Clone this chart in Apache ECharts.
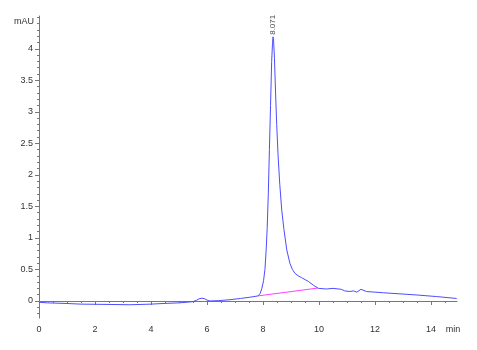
<!DOCTYPE html>
<html>
<head>
<meta charset="utf-8">
<script src="https://cdn.jsdelivr.net/npm/echarts@6/dist/echarts.min.js"></script>
<style>html,body{margin:0;padding:0;background:#fff}#c{width:477px;height:350px}</style>
</head>
<body>
<div id="c"></div>
<script>
// Chromatogram trace (time in min, signal in mAU)
const times = [0.0,0.3,1.0,1.5,2.5,3.25,4.0,4.43,5.0,5.29,5.5,5.62,5.72,5.82,5.92,6.0,6.1,6.4,6.82,7.2,7.54,7.82,7.9,7.96,8.02,8.07,8.11,8.15,8.19,8.23,8.27,8.31,8.34,8.36,8.38,8.41,8.45,8.49,8.54,8.6,8.67,8.75,8.85,8.96,9.05,9.14,9.25,9.38,9.5,9.62,9.8,9.98,10.27,10.5,10.8,10.92,10.99,11.1,11.23,11.35,11.5,11.7,12.3,13.5,14.2,14.92];
const signal = [-0.02,-0.03,-0.04,-0.05,-0.055,-0.06,-0.05,-0.04,-0.03,-0.02,-0.01,0.01,0.035,0.045,0.035,0.015,0.0,0.005,0.02,0.04,0.06,0.08,0.12,0.2,0.32,0.5,0.78,1.15,1.7,2.4,3.1,3.8,4.08,4.19,4.12,3.85,3.3,2.8,2.3,1.85,1.44,1.13,0.81,0.60,0.5,0.44,0.40,0.37,0.34,0.31,0.25,0.20,0.19,0.20,0.185,0.16,0.13,0.15,0.16,0.14,0.185,0.15,0.13,0.095,0.07,0.04];
// Integration baseline
const baseTimes = [7.82, 9.96];
const baseValues = [0.08, 0.205];
// Peak annotation
const peakTimes = [8.36];
const peakValues = [4.19];
const peakLabels = ['8.071'];
// Axis ticks
const xTickLabels = [0,2,4,6,8,10,12,14];
const yTickLabels = [0,0.5,1,1.5,2,2.5,3,3.5,4];
const xMinorTicks = [];
for (let i = 0; i <= 29; i++) xMinorTicks.push(i * 0.5);
const yMinorTicks = [];
for (let i = -2; i <= 45; i++) yMinorTicks.push(i / 10);

const XMIN = 0, XMAX = 14.93, YMIN = -0.27, YMAX = 4.52;
const axisColor = '#777';
const labelStyle = {color: '#333', fontSize: 9, fontFamily: 'Liberation Sans, Arial, sans-serif'};

const chart = echarts.init(document.getElementById('c'));
chart.setOption({
  animation: false,
  backgroundColor: '#fff',
  grid: {left: 39, right: 20, top: 16, bottom: 32, containLabel: false},
  xAxis: [
    {
      type: 'value', min: XMIN, max: XMAX,
      name: 'min', nameLocation: 'end', nameGap: -4,
      nameTextStyle: Object.assign({}, labelStyle, {align: 'center', verticalAlign: 'top', padding: [24, 0, 0, 0]}),
      axisLine: {show: true, lineStyle: {color: axisColor, width: 1}},
      axisTick: {show: true, customValues: xTickLabels, length: 4, lineStyle: {color: axisColor}},
      axisLabel: Object.assign({show: true, customValues: xTickLabels, margin: 7}, labelStyle),
      splitLine: {show: false}
    },
    {
      type: 'value', min: XMIN, max: XMAX, position: 'bottom',
      axisLine: {show: false},
      axisTick: {show: true, customValues: xMinorTicks, length: 2, lineStyle: {color: axisColor}},
      axisLabel: {show: false},
      splitLine: {show: false}
    }
  ],
  yAxis: [
    {
      type: 'value', min: YMIN, max: YMAX,
      name: 'mAU', nameLocation: 'end', nameGap: -6,
      nameTextStyle: Object.assign({}, labelStyle, {align: 'right', verticalAlign: 'middle', padding: [0, 5, 0, 0]}),
      axisLine: {show: true, lineStyle: {color: axisColor, width: 1}},
      axisTick: {show: true, customValues: yTickLabels, length: 4, lineStyle: {color: axisColor}},
      axisLabel: Object.assign({show: true, customValues: yTickLabels, margin: 6}, labelStyle),
      splitLine: {show: false}
    },
    {
      type: 'value', min: YMIN, max: YMAX, position: 'left',
      axisLine: {show: false},
      axisTick: {show: true, customValues: yMinorTicks, length: 2, lineStyle: {color: axisColor}},
      axisLabel: {show: false},
      splitLine: {show: false}
    }
  ],
  series: [
    {
      type: 'line',
      data: baseTimes.map((t, i) => [t, baseValues[i]]),
      symbol: 'none',
      lineStyle: {color: '#ff40ff', width: 1},
      z: 2
    },
    {
      type: 'line',
      data: times.map((t, i) => [t, signal[i]]),
      symbol: 'none',
      smooth: false,
      lineStyle: {color: '#4d4dff', width: 1},
      z: 3
    },
    {
      type: 'scatter',
      data: peakTimes.map((t, i) => [t, peakValues[i]]),
      symbolSize: 0,
      label: {
        show: true,
        formatter: (p) => peakLabels[p.dataIndex],
        position: 'top',
        rotate: 90,
        align: 'left',
        verticalAlign: 'middle',
        distance: 2,
        color: '#222',
        fontSize: 8,
        fontFamily: 'Liberation Sans, Arial, sans-serif'
      },
      z: 4
    }
  ]
});
</script>
</body>
</html>
